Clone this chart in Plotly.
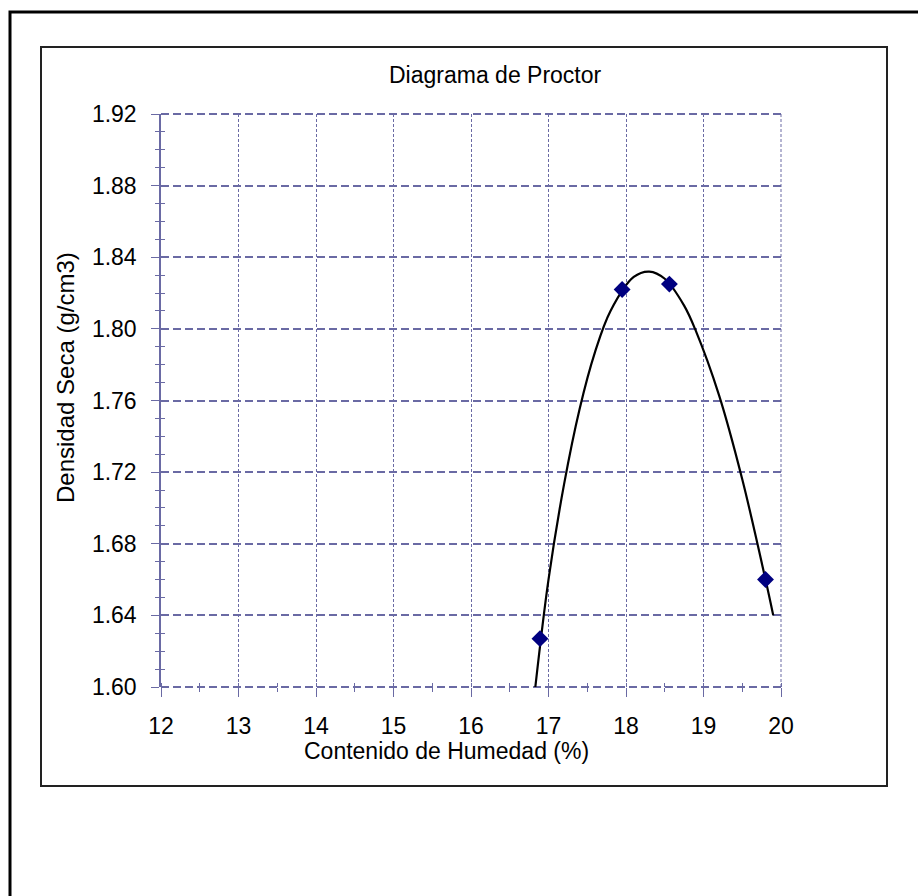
import plotly.graph_objects as go

# Measured data points (Contenido de Humedad %, Densidad Seca g/cm3)
humedad = [16.89, 17.95, 18.56, 19.80]
densidad = [1.627, 1.822, 1.825, 1.660]

# Trend curve
trend_x = [16.83, 17.00, 17.20, 17.40, 17.60, 17.80, 18.10, 18.30, 18.50, 18.75, 18.90, 19.20, 19.50, 19.80, 19.90]
trend_y = [1.600, 1.660, 1.713, 1.755, 1.787, 1.810, 1.829, 1.832, 1.828, 1.813, 1.799, 1.763, 1.716, 1.660, 1.640]

x_ticks = [12, 13, 14, 15, 16, 17, 18, 19, 20]
y_ticks = [1.60, 1.64, 1.68, 1.72, 1.76, 1.80, 1.84, 1.88, 1.92]
y_labels = ["%.2f" % v for v in y_ticks]

W, H = 918, 896
L, R, T, B = 161, 781, 114, 687
GRID = "#6a6aa4"
FONT = "Liberation Sans, Arial, sans-serif"
HDASH = "8px,4px"
VDASH = "3px,2px"


def px(xp):
    return (xp - L) / (R - L)


def py(yp):
    return (B - yp) / (B - T)


fig = go.Figure()
fig.add_trace(go.Scatter(x=trend_x, y=trend_y, mode="lines",
                         line=dict(color="black", width=2.2, shape="spline", smoothing=1.0),
                         hoverinfo="skip", showlegend=False))
fig.add_trace(go.Scatter(x=humedad, y=densidad, mode="markers",
                         marker=dict(symbol="diamond", size=13, color="#000080"),
                         showlegend=False))

fig.update_layout(
    width=W, height=H,
    margin=dict(l=L, r=W - R, t=T, b=H - B, pad=0),
    paper_bgcolor="white", plot_bgcolor="white",
    font=dict(family=FONT, color="black", size=23),
    showlegend=False,
    xaxis=dict(range=[x_ticks[0], x_ticks[-1]], tickvals=x_ticks, ticktext=[str(v) for v in x_ticks],
               showgrid=True, gridcolor=GRID, gridwidth=1, griddash=VDASH,
               zeroline=False, showline=False,
               ticks="outside", ticklen=9, tickcolor=GRID, tickwidth=1,
               ticklabelstandoff=9,
               tickfont=dict(size=23, family=FONT),
               minor=dict(dtick=0.5, ticks="outside", ticklen=4, tickcolor=GRID, tickwidth=1, showgrid=False)),
    yaxis=dict(range=[y_ticks[0], y_ticks[-1]], tickvals=y_ticks, ticktext=y_labels,
               showgrid=True, gridcolor=GRID, gridwidth=2, griddash=HDASH,
               zeroline=False, showline=True, linecolor=GRID, linewidth=1.5,
               ticks="outside", ticklen=8, tickcolor=GRID, tickwidth=1,
               ticklabelstandoff=10,
               tickfont=dict(size=23, family=FONT),
               minor=dict(dtick=0.01, tick0=1.60, ticks="outside", ticklen=4, tickcolor=GRID, tickwidth=1, showgrid=False)),
    xaxis2=dict(range=[x_ticks[0], x_ticks[-1]], overlaying="x", anchor="y", side="bottom",
                showgrid=False, zeroline=False, showline=False, showticklabels=False,
                ticks="", tickvals=x_ticks,
                minor=dict(dtick=0.5, ticks="inside", ticklen=4, tickcolor=GRID, tickwidth=1, showgrid=False)),
    yaxis2=dict(range=[y_ticks[0], y_ticks[-1]], overlaying="y", anchor="x", side="left",
                showgrid=False, zeroline=False, showline=False, showticklabels=False,
                ticks="", tickvals=y_ticks,
                minor=dict(dtick=0.01, tick0=1.60, ticks="inside", ticklen=4, tickcolor=GRID, tickwidth=1, showgrid=False)),
)

# dummy invisible trace so the overlay axes render
fig.add_trace(go.Scatter(x=[x_ticks[0]], y=[y_ticks[0]], xaxis="x2", yaxis="y2", mode="markers",
                         marker=dict(opacity=0), hoverinfo="skip", showlegend=False))

# Edge gridlines (Plotly hides gridlines at the range ends)
for yp in (0, 1):
    fig.add_shape(type="line", xref="paper", yref="paper", x0=0, x1=1, y0=yp, y1=yp,
                  line=dict(color=GRID, width=2, dash=HDASH), layer="below")
fig.add_shape(type="line", xref="paper", yref="paper", x0=1, x1=1, y0=0, y1=1,
              line=dict(color=GRID, width=1, dash=VDASH), layer="below")

# Borders
fig.add_shape(type="rect", xref="paper", yref="paper",
              x0=px(10), x1=px(935), y0=py(12), y1=py(915),
              line=dict(color="black", width=3), layer="below")
fig.add_shape(type="rect", xref="paper", yref="paper",
              x0=px(41), x1=px(887), y0=py(47), y1=py(786),
              line=dict(color="#222222", width=2), layer="below")

# Titles
fig.add_annotation(text="Diagrama de Proctor", xref="paper", yref="paper",
                   x=px(495), y=py(75), showarrow=False, xanchor="center", yanchor="middle",
                   font=dict(size=23, family=FONT, color="black"))
fig.add_annotation(text="Contenido de Humedad (%)", xref="paper", yref="paper",
                   x=px(446), y=py(751), showarrow=False, xanchor="center", yanchor="middle",
                   font=dict(size=23, family=FONT, color="black"))
fig.add_annotation(text="Densidad Seca (g/cm3)", xref="paper", yref="paper",
                   x=px(65), y=py(378), showarrow=False, xanchor="center", yanchor="middle",
                   textangle=-90, font=dict(size=24, family=FONT, color="black"))

fig.write_html("out.html")
